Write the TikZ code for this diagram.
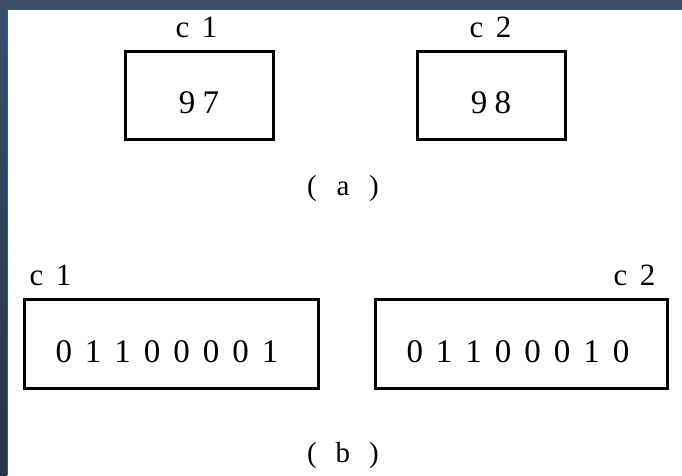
\documentclass[tikz,border=0pt]{standalone}
\usepackage{fontspec}
\setmainfont{Liberation Serif}
\newlength\spw
\def\spreadloop#1{\ifx#1\relax\else\makebox[\spw]{#1}\expandafter\spreadloop\fi}
\newcommand\spread[2]{\setlength\spw{#1}\spreadloop#2\relax}
\definecolor{bgdark}{RGB}{40,52,74}
\definecolor{bgtop}{RGB}{62,78,104}
\definecolor{bgmid}{RGB}{24,30,44}
\definecolor{edgeblue}{RGB}{20,100,150}
\tikzset{
  membox/.style={draw=black, line width=3pt, fill=white, inner sep=0pt, rectangle},
  numtext/.style={inner sep=0pt, font=\fontsize{33}{35}\selectfont},
  varlabel/.style={inner sep=0pt, font=\fontsize{31}{33}\selectfont},
  caption/.style={inner sep=0pt, font=\fontsize{29}{31}\selectfont},
}
\begin{document}
\begin{tikzpicture}[x=1pt,y=-1pt]
\useasboundingbox (0,0) rectangle (682,475);
% background frame
\fill[bgdark] (0,0) rectangle (682,475);
\fill[bgtop] (0,0) rectangle (682,9);
\shade[top color=bgtop, middle color=bgmid, bottom color=bgdark] (0,9) rectangle (7,475);
\fill[white] (7,9) rectangle (682,475);
\draw[edgeblue, line width=1.2pt] (7.4,475) -- (7.4,9.4) -- (682,9.4);

% (a)
\node[membox, minimum width=148pt, minimum height=88pt] (a1) at (199,95) {};
\node[membox, minimum width=148pt, minimum height=88pt] (a2) at (491,95) {};
\node[numtext] (v97) at ([yshift=-8pt]a1.center) {\spread{24pt}{97}};
\node[numtext] (v98) at ([yshift=-8pt]a2.center) {\spread{24pt}{98}};
\node[varlabel] (la1) at (196,27) {\spread{27pt}{c1}};
\node[varlabel] (la2) at (490,27) {\spread{27pt}{c2}};
\node[caption] (capa) at (343,189) {\spread{31pt}{(a)}};

% (b)
\node[membox, minimum width=294pt, minimum height=89pt] (b1) at (171,343.5) {};
\node[membox, minimum width=292pt, minimum height=89pt] (b2) at (521,343.5) {};
\node[numtext] (bits1) at ([xshift=-4pt,yshift=-8pt]b1.center) {\spread{29.5pt}{01100001}};
\node[numtext] (bits2) at ([xshift=-3pt,yshift=-8pt]b2.center) {\spread{29.5pt}{01100010}};
\node[varlabel] (lb1) at (50,275) {\spread{27pt}{c1}};
\node[varlabel] (lb2) at (634,275) {\spread{27pt}{c2}};
\node[caption] (capb) at (343,456) {\spread{31pt}{(b)}};
\end{tikzpicture}
\end{document}
